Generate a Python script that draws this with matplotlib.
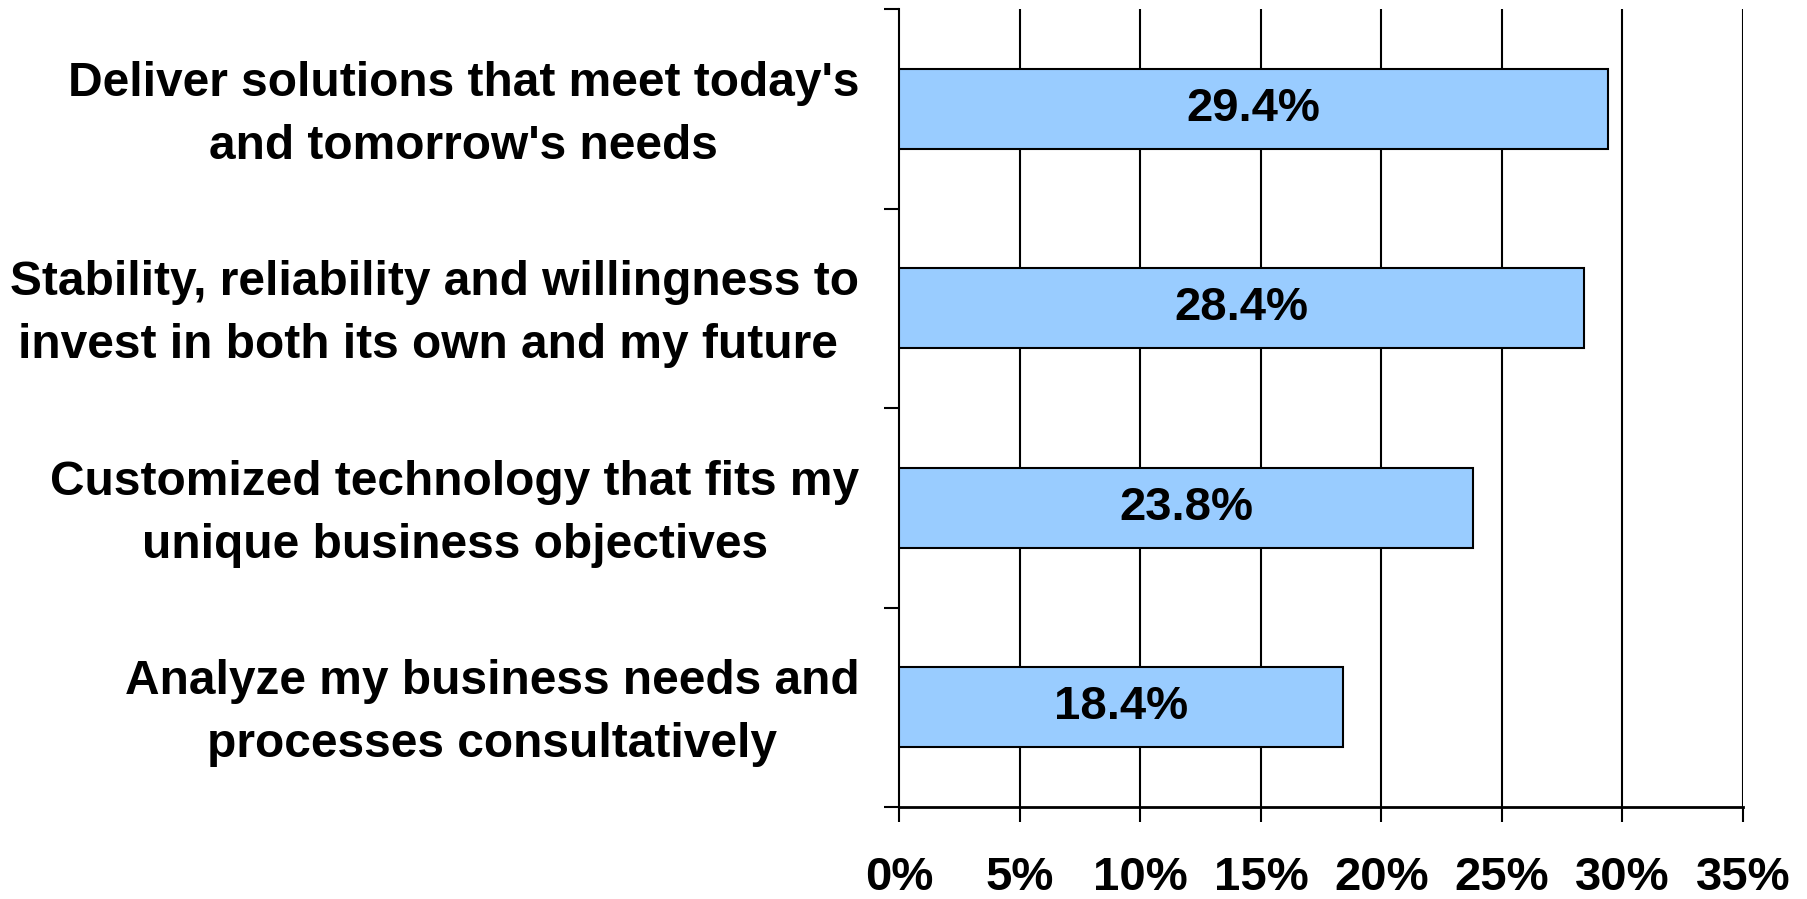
import matplotlib
matplotlib.use("Agg")
import matplotlib.pyplot as plt
import matplotlib.transforms as mtransforms
import numpy as np

plt.rcParams['font.family'] = ['Liberation Sans', 'DejaVu Sans']
plt.rcParams['font.weight'] = 'bold'

# data
categories = [
    "Deliver solutions that meet today's\nand tomorrow's needs",
    "Stability, reliability and willingness to\ninvest in both its own and my future ",
    "Customized technology that fits my\nunique business objectives",
    "Analyze my business needs and\nprocesses consultatively",
]
values = [29.4, 28.4, 23.8, 18.4]
xticks = [0, 5, 10, 15, 20, 25, 30, 35]
xtick_labels = ["0%", "5%", "10%", "15%", "20%", "25%", "30%", "35%"]

fig = plt.figure(figsize=(18.08, 8.99), dpi=100)
ax = fig.add_axes([0.4975, 0.1023, 0.4665, 0.8877])

ypos = np.arange(len(categories))
ax.barh(ypos, values, height=0.4, color='#99CCFF', edgecolor='black',
        linewidth=1.5, zorder=3)

for y, v in zip(ypos, values):
    ax.text(v / 2, y, f"{v:.1f}%", ha='center', va='center',
            fontsize=34, fontweight='bold', zorder=4)

ax.set_xlim(0, 35)
ax.set_ylim(3.5, -0.5)

# vertical gridlines
for x in xticks[1:]:
    ax.axvline(x, color='black', linewidth=1.5, zorder=1)

ax.set_xticks(xticks)
ax.set_xticklabels(xtick_labels, fontsize=34, fontweight='bold')
ax.tick_params(axis='x', direction='out', length=11, width=1.5, pad=24)

ax.set_yticks(np.arange(-0.5, len(categories), 1.0))
ax.set_yticklabels([])
ax.set_yticks(ypos, minor=True)
ax.set_yticklabels(categories, minor=True, fontsize=34.5, fontweight='bold',
                   multialignment='center', linespacing=1.52)
ax.tick_params(axis='y', which='major', direction='out', length=11, width=1.5)
ax.tick_params(axis='y', which='minor', length=0, pad=29)

# nudge category labels up a little
shift = mtransforms.ScaledTranslation(0, 0.08, fig.dpi_scale_trans)
for lbl in ax.get_yticklabels(minor=True):
    lbl.set_transform(lbl.get_transform() + shift)

for side in ['top', 'right']:
    ax.spines[side].set_visible(False)
ax.spines['left'].set_linewidth(1.5)
ax.spines['bottom'].set_linewidth(2)

fig.savefig("out.png", dpi=100)
